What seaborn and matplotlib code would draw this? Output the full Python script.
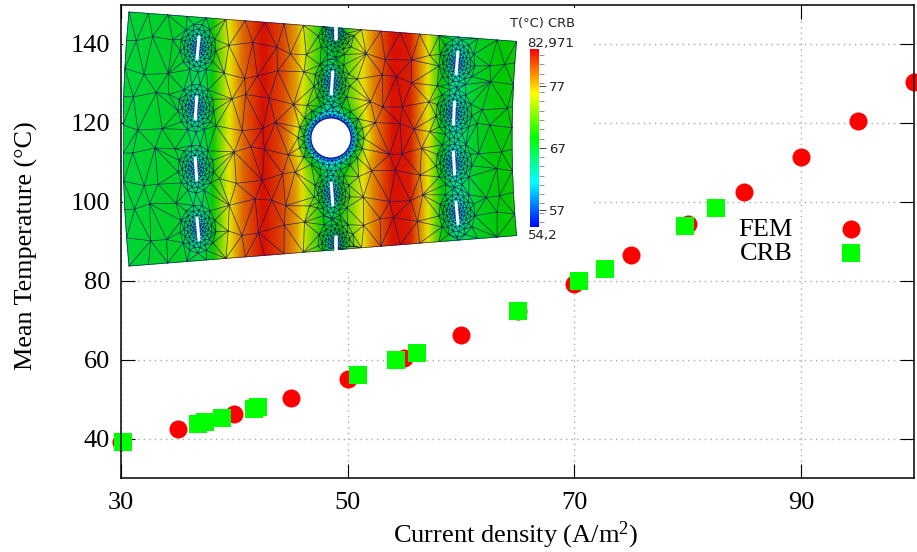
import numpy as np
import pandas as pd
import matplotlib
matplotlib.use('Agg')
import matplotlib.pyplot as plt
import matplotlib.tri as mtri
from matplotlib.colors import LinearSegmentedColormap, Normalize
from matplotlib.cm import ScalarMappable
from matplotlib.patches import Circle
import seaborn as sns

# values
fem_x = [30, 35, 40, 45, 50, 55, 60, 65, 70, 75, 80, 85, 90, 95, 100]
fem_y = [39.2, 42.5, 46.3, 50.4, 55.2, 60.5, 66.3, 72.2, 79.2, 86.6, 94.4, 102.5, 111.4, 120.5, 130.4]
crb_x = [30.2, 36.8, 37.4, 38.9, 41.7, 42.1, 50.9, 54.3, 56.1, 65, 70.4, 72.7, 79.8, 82.5]
crb_y = [39.2, 43.8, 44.1, 45.3, 47.6, 47.9, 56.2, 59.8, 61.7, 72.4, 80, 83, 93.9, 98.5]

xticks = [30, 50, 70, 90]
yticks = [40, 60, 80, 100, 120, 140]

# temperature profile across the plate (pixel column, deg C)
profile_px = [123, 210, 227, 243, 263, 283, 297, 307, 330, 353, 373, 393, 410, 420, 430, 440, 457, 513]
profile_t = [67, 68, 75, 80, 83, 81, 78, 74, 68, 73, 79, 83, 82.5, 79, 75, 70, 67, 69]
bar_ticks = [57, 67, 77]
t_min, t_max = 54.2, 82.971

slots = [(198, 48, -1), (196, 108, -0.7), (196, 169, 0.8), (198, 229, 1),
         (332, 83, -0.7), (332, 194, 0.8),
         (457, 63, -0.8), (454, 113, -0.5), (454, 163, 0.6), (457, 213, 1)]
notches = [(336, 33), (336, 243)]
hole = (331, 138, 19.5)

W, H = 917, 552
sns.set_theme(style='ticks')
plt.rcParams['font.family'] = ['Liberation Serif', 'DejaVu Serif']
plt.rcParams['mathtext.fontset'] = 'custom'
plt.rcParams['mathtext.rm'] = 'Liberation Serif'
plt.rcParams['mathtext.default'] = 'regular'
plt.rcParams['text.color'] = 'black'
plt.rcParams['axes.labelcolor'] = 'black'


def px_axes(x0, y0, x1, y1):
    return fig.add_axes([x0 / W, 1 - y1 / H, (x1 - x0) / W, (y1 - y0) / H])


fig = plt.figure(figsize=(W / 100, H / 100), dpi=100, facecolor='white')
ax = px_axes(121, 4.5, 914.3, 478)

fem = pd.DataFrame({'x': fem_x, 'y': fem_y})
crb = pd.DataFrame({'x': crb_x, 'y': crb_y})
sns.scatterplot(data=fem, x='x', y='y', marker='o', color='#ff0000', s=169, linewidth=0,
                clip_on=False, zorder=3, label='FEM', ax=ax)
sns.scatterplot(data=crb, x='x', y='y', marker='s', color='#00ff00', s=169, linewidth=0,
                clip_on=False, zorder=4, label='CRB', ax=ax)

ax.set_xlim(30, 100)
ax.set_ylim(30, 150)
ax.set_xticks(xticks)
ax.set_yticks(yticks)
ax.tick_params(direction='in', length=10, width=0.8, top=True, right=True, labelsize=19,
               colors='black', pad=8)
ax.tick_params(axis='x', pad=10)
ax.grid(True, color='#aaaaaa', linestyle=(0, (1, 3)), linewidth=1)
ax.set_axisbelow(True)
for s in ax.spines.values():
    s.set_linewidth(1.1)
    s.set_color('black')
    s.set_zorder(6)
ax.set_xlabel('Current density (A/m$^2$)', fontsize=19)
ax.set_ylabel('Mean Temperature (°C)', fontsize=18.8)
ax.xaxis.set_label_coords(0.498, -0.087)
ax.yaxis.set_label_coords(-0.104, 0.49)
ax.legend(loc='upper left', bbox_to_anchor=(0.778, 0.551), frameon=False, markerfirst=False,
          fontsize=19, labelspacing=0.02, handletextpad=1.2, borderpad=0, borderaxespad=0)

# inset: temperature field on the meshed plate
inset = px_axes(123, 8, 590, 272)
inset.set_xlim(123, 590)
inset.set_ylim(272, 8)
inset.set_xticks([])
inset.set_yticks([])
for s in inset.spines.values():
    s.set_visible(False)


def to_xy(u, v):
    xl = 123 + 6 * (2 * v - 1) ** 2
    xr = 512 + 4.5 * (2 * v - 1) ** 2
    x = xl + u * (xr - xl)
    top = 12 + 29.5 * u
    bot = 266 - 30.5 * u
    return x, top + v * (bot - top)


def temp_at(x, y):
    t = np.interp(x, profile_px, profile_t)
    for sx, sy, _ in slots:
        d = np.hypot(x - sx, (y - sy) / 2.2)
        t += np.exp(-d / 5.0) * (56 - t)
    for sx, sy in notches:
        d = np.hypot(x - sx, y - sy)
        t += np.exp(-d / 6.0) * (60 - t)
    d = np.clip(np.hypot(x - hole[0], y - hole[1]) - hole[2], 0, None)
    t += np.exp(-d / 7.0) * (55 - t)
    return t


# coarse, slightly uneven background mesh
nu, nv = 21, 10
pts = []
for j in range(nv):
    v0 = j / (nv - 1)
    stagger = 0.5 if (j % 2 and j < nv - 1) else 0
    if stagger:
        pts.append((0, v0))
        pts.append((1, v0))
    for i in range(nu):
        u = (i + stagger) / (nu - 1)
        if u > 1:
            continue
        v = v0
        if 0 < i < nu - 1 and 0 < j < nv - 1:
            u += 0.012 * np.sin(2.3 * j + 1.7 * i)
            v += 0.022 * np.sin(1.3 * i + 3.1 * j)
        pts.append((min(u, 1), v))
pts = np.array(pts)
gx, gy = to_xy(pts[:, 0], pts[:, 1])

centres = [(s[0], s[1]) for s in slots] + list(notches)
keep = np.ones(len(gx), bool)
for cx, cy in centres:
    keep &= np.hypot(gx - cx, (gy - cy) / 1.2) > 24
keep &= np.hypot(gx - hole[0], gy - hole[1]) > 40
# edge nodes stay so that the outline is complete
keep |= (pts[:, 1] == 0) | (pts[:, 1] == 1) | (pts[:, 0] == 0) | (pts[:, 0] == 1)
nx, ny = [gx[keep]], [gy[keep]]

# fine mesh around slots and hole
for cx, cy in centres:
    for r, n in [(3, 10), (5, 12), (7.5, 14), (10.5, 15), (14, 15), (18, 13)]:
        a = np.linspace(0, 2 * np.pi, n, endpoint=False) + r
        nx.append(cx + r * np.cos(a))
        ny.append(cy + 1.35 * r * np.sin(a))
for r, n in [(20, 40), (23, 36), (27, 28), (33, 20)]:
    a = np.linspace(0, 2 * np.pi, n, endpoint=False) + r
    nx.append(hole[0] + r * np.cos(a))
    ny.append(hole[1] + r * np.sin(a))
nx, ny = np.concatenate(nx), np.concatenate(ny)

# drop ring nodes lying outside the plate
uu = (nx - 123) / (512 - 123)
inside = (ny > 12 + 29.5 * uu + 1) & (ny < 266 - 30.5 * uu - 1)
on_edge = np.isin(nx, gx[keep]) & np.isin(ny, gy[keep])
nx, ny = nx[inside | on_edge], ny[inside | on_edge]

tri = mtri.Triangulation(nx, ny)
cx_t = nx[tri.triangles].mean(axis=1)
cy_t = ny[tri.triangles].mean(axis=1)
vv = np.clip((cy_t - 12) / 254, 0, 1)
tri.set_mask((cx_t > 512 + 4.5 * (2 * vv - 1) ** 2) | (cx_t < 123 + 6 * (2 * vv - 1) ** 2))

# colours on a finer copy, so that the bands stay clean inside long triangles
fine = mtri.UniformTriRefiner(tri).refine_triangulation(subdiv=3)
field_cmap = LinearSegmentedColormap.from_list(
    'field', ['#0000ff', '#00ffff', '#00c800', '#e6e600', '#d81000'])
norm = Normalize(t_min, t_max)
inset.tripcolor(fine, temp_at(fine.x.copy(), fine.y.copy()), shading='gouraud',
                cmap=field_cmap, norm=norm, rasterized=True)
inset.triplot(tri, color='#141464', linewidth=0.5, alpha=0.85)

inset.add_patch(Circle(hole[:2], hole[2], facecolor='white', edgecolor='none', zorder=5))
for sx, sy, tilt in slots:
    inset.plot([sx - tilt, sx + tilt], [sy - 11, sy + 11], color='white', lw=2.2,
               solid_capstyle='round', zorder=5)
inset.plot([336, 336], [26, 39], color='white', lw=2.6, zorder=5)
inset.plot([336, 336], [237, 250], color='white', lw=2.6, zorder=5)

# colour bar of the inset
cax = px_axes(530, 49, 539, 227)
cbar = fig.colorbar(ScalarMappable(norm=norm, cmap=LinearSegmentedColormap.from_list(
    'bar', ['#0000ff', '#00ffff', '#00ff00', '#ffff00', '#ff0000'])), cax=cax)
cbar.outline.set_visible(False)
cbar.set_ticks(bar_ticks)
cbar.set_ticklabels(['57', '67', '77'])
cax.set_yticks(np.arange(55, 83, 1.5), minor=True)
cax.tick_params(which='major', length=5, width=0.7, color='#444444', labelsize=9.5, pad=2,
                labelcolor='#222222')
cax.tick_params(which='minor', length=3.5, width=0.5, color='#666666')
for lab in cax.get_yticklabels():
    lab.set_family('DejaVu Sans')
inset.text(543, 24, 'T(°C) CRB', family='DejaVu Sans', fontsize=9.4, ha='center', va='center',
           color='#222222')
inset.text(551, 43, '82,971', family='DejaVu Sans', fontsize=9.6, ha='center', va='center',
           color='#222222')
inset.text(543, 235, '54,2', family='DejaVu Sans', fontsize=9.6, ha='center', va='center',
           color='#222222')

fig.savefig('out.png', dpi=100)
